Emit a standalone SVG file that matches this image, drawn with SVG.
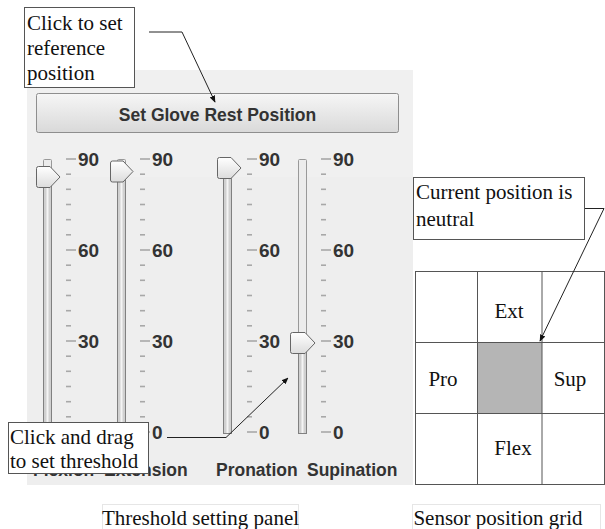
<svg xmlns="http://www.w3.org/2000/svg" width="605" height="529" viewBox="0 0 605 529">
<style>
.ui{font-family:"Liberation Sans",Arial,sans-serif;font-weight:bold;fill:#333;}
.num{font-size:19px;}
.lab{font-size:17.5px;}
.ser{font-family:"Liberation Serif","Times New Roman",serif;font-size:21px;fill:#111;}
.box{fill:#fff;stroke:#555;stroke-width:1;}
.cap{fill:#fff;stroke:#e6e6e6;stroke-width:1;}
.tick{stroke:#a8a8a8;stroke-width:1.6;}
.track{fill:#ececec;stroke:#999;stroke-width:1;}
.fill{fill:#d0d0d0;stroke:#808080;stroke-width:1;}
.thumb{fill:url(#tg);stroke:#666;stroke-width:1;}
.grid{fill:#fff;stroke:#555;stroke-width:1;}
.conn{fill:none;stroke:#222;stroke-width:1;}
</style>
<defs>
<linearGradient id="bg" x1="0" y1="0" x2="0" y2="1">
<stop offset="0" stop-color="#f6f6f6"/><stop offset="1" stop-color="#d9d9d9"/>
</linearGradient>
<linearGradient id="tg" x1="0" y1="0" x2="0" y2="1">
<stop offset="0" stop-color="#ffffff"/><stop offset="1" stop-color="#dcdcdc"/>
</linearGradient>
<marker id="arr" viewBox="0 0 10 10" refX="9" refY="5" markerWidth="7" markerHeight="7" orient="auto" markerUnits="userSpaceOnUse">
<path d="M0,1 L10,5 L0,9 z" fill="#111"/>
</marker>
<g id="scale">
<line class="tick" x1="0" y1="159" x2="10" y2="159"/>
<line class="tick" x1="0" y1="174.2" x2="5" y2="174.2"/>
<line class="tick" x1="0" y1="189.3" x2="5" y2="189.3"/>
<line class="tick" x1="0" y1="204.5" x2="5" y2="204.5"/>
<line class="tick" x1="0" y1="219.7" x2="5" y2="219.7"/>
<line class="tick" x1="0" y1="234.8" x2="5" y2="234.8"/>
<line class="tick" x1="0" y1="250" x2="10" y2="250"/>
<line class="tick" x1="0" y1="265.2" x2="5" y2="265.2"/>
<line class="tick" x1="0" y1="280.3" x2="5" y2="280.3"/>
<line class="tick" x1="0" y1="295.5" x2="5" y2="295.5"/>
<line class="tick" x1="0" y1="310.7" x2="5" y2="310.7"/>
<line class="tick" x1="0" y1="325.8" x2="5" y2="325.8"/>
<line class="tick" x1="0" y1="341" x2="10" y2="341"/>
<line class="tick" x1="0" y1="356.2" x2="5" y2="356.2"/>
<line class="tick" x1="0" y1="371.3" x2="5" y2="371.3"/>
<line class="tick" x1="0" y1="386.5" x2="5" y2="386.5"/>
<line class="tick" x1="0" y1="401.7" x2="5" y2="401.7"/>
<line class="tick" x1="0" y1="416.8" x2="5" y2="416.8"/>
<line class="tick" x1="0" y1="432" x2="10" y2="432"/>
<text class="ui num" x="12" y="166">90</text>
<text class="ui num" x="12" y="257">60</text>
<text class="ui num" x="12" y="348">30</text>
<text class="ui num" x="12" y="439">0</text>
</g>
</defs>

<g id="panel">
<rect x="27" y="70" width="386" height="415" fill="#eeeeee"/>
<rect x="27" y="70" width="386" height="107" fill="#f0f0f0"/>
</g>

<g id="button">
<rect x="36.5" y="93.5" width="362" height="39" rx="2" fill="url(#bg)" stroke="#8e8e8e"/>
<text class="ui lab" x="217.5" y="121" text-anchor="middle">Set Glove Rest Position</text>
</g>

<g id="slider-flexion">
<rect class="track" x="43.5" y="159.5" width="8" height="274" rx="1"/>
<rect class="fill" x="43.5" y="180" width="8" height="253.5"/>
<line x1="47.5" y1="180" x2="47.5" y2="433" stroke="#f4f4f4" stroke-width="2"/>
<path class="thumb" d="M38.5,166.5 L50,166.5 L60,177 L50,187.5 L38.5,187.5 Q36.5,187.5 36.5,185.5 L36.5,168.5 Q36.5,166.5 38.5,166.5 z"/>
<use href="#scale" x="66"/>
<text class="ui lab" x="33" y="476">Flexion</text>
</g>

<g id="slider-extension">
<rect class="track" x="117.5" y="159.5" width="8" height="274" rx="1"/>
<rect class="fill" x="117.5" y="174" width="8" height="259.5"/>
<line x1="121.5" y1="174" x2="121.5" y2="433" stroke="#f4f4f4" stroke-width="2"/>
<path class="thumb" d="M112.5,161 L123,161 L133,171.5 L123,182 L112.5,182 Q110.5,182 110.5,180 L110.5,163 Q110.5,161 112.5,161 z"/>
<use href="#scale" x="140"/>
<text class="ui lab" x="104" y="476">Extension</text>
</g>

<g id="slider-pronation">
<rect class="track" x="223.5" y="159.5" width="8" height="274" rx="1"/>
<rect class="fill" x="223.5" y="172" width="8" height="261.5"/>
<line x1="227.5" y1="172" x2="227.5" y2="433" stroke="#f4f4f4" stroke-width="2"/>
<path class="thumb" d="M219.5,157.5 L231,157.5 L241,168 L231,178.5 L219.5,178.5 Q217.5,178.5 217.5,176.5 L217.5,159.5 Q217.5,157.5 219.5,157.5 z"/>
<use href="#scale" x="247"/>
<text class="ui lab" x="216" y="476">Pronation</text>
</g>

<g id="slider-supination">
<rect class="track" x="298.5" y="159.5" width="8" height="274" rx="1"/>
<rect class="fill" x="298.5" y="348" width="8" height="85.5"/>
<line x1="302.5" y1="348" x2="302.5" y2="433" stroke="#f4f4f4" stroke-width="2"/>
<path class="thumb" d="M292.5,332.5 L305,332.5 L315,343 L305,353.5 L292.5,353.5 Q290.5,353.5 290.5,351.5 L290.5,334.5 Q290.5,332.5 292.5,332.5 z"/>
<use href="#scale" x="321"/>
<text class="ui lab" x="307" y="476">Supination</text>
</g>

<g id="grid">
<rect class="grid" x="415.5" y="271.5" width="189" height="213"/>
<rect x="477.5" y="342.5" width="64.5" height="71" fill="#b5b5b5"/>
<line class="grid" x1="477.5" y1="271.5" x2="477.5" y2="484.5"/>
<line class="grid" x1="542" y1="271.5" x2="542" y2="484.5"/>
<line class="grid" x1="415.5" y1="342.5" x2="604.5" y2="342.5"/>
<line class="grid" x1="415.5" y1="413.5" x2="604.5" y2="413.5"/>
<text class="ser" x="509" y="318" text-anchor="middle">Ext</text>
<text class="ser" x="443" y="386" text-anchor="middle">Pro</text>
<text class="ser" x="570" y="386" text-anchor="middle">Sup</text>
<text class="ser" x="513" y="455" text-anchor="middle">Flex</text>
</g>

<g id="connectors">
<path class="conn" d="M149,32 L182,32 L215,102" marker-end="url(#arr)"/>
<path class="conn" d="M167,437.5 L226,437.5 L288,378" marker-end="url(#arr)"/>
<path class="conn" d="M585,208.5 L604,208.5 L540,341" marker-end="url(#arr)"/>
</g>

<g id="callout-reference">
<rect class="box" x="24.5" y="7.5" width="110" height="80"/>
<text class="ser" x="27" y="30">Click to set</text>
<text class="ser" x="27" y="55">reference</text>
<text class="ser" x="27" y="80">position</text>
</g>

<g id="callout-drag">
<rect class="box" x="8.5" y="422.5" width="140" height="51"/>
<text class="ser" x="10" y="444">Click and drag</text>
<text class="ser" x="10" y="468">to set threshold</text>
</g>

<g id="callout-neutral">
<rect class="box" x="413.5" y="177.5" width="171" height="62"/>
<text class="ser" x="416" y="199">Current position is</text>
<text class="ser" x="416" y="226">neutral</text>
</g>

<g id="caption-panel">
<rect class="cap" x="102.5" y="504.5" width="196" height="26"/>
<text class="ser" x="200.5" y="525" text-anchor="middle">Threshold setting panel</text>
</g>

<g id="caption-grid">
<rect class="cap" x="412.5" y="504.5" width="188" height="26"/>
<text class="ser" x="498" y="525" text-anchor="middle">Sensor position grid</text>
</g>
</svg>
